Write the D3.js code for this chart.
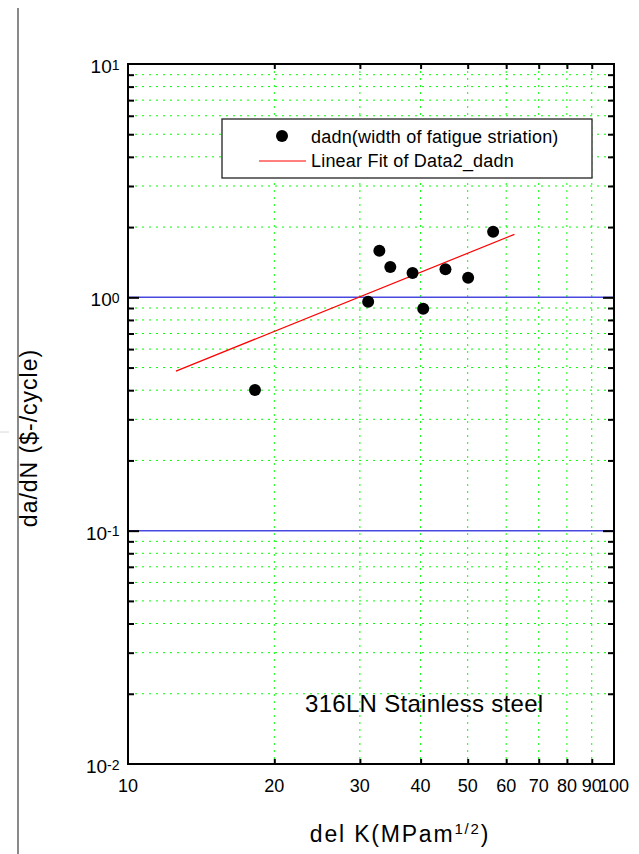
<!DOCTYPE html>
<html>
<head>
<meta charset="utf-8">
<script src="https://cdn.jsdelivr.net/npm/d3@7"></script>
<style>
  body { margin: 0; background: #fff; }
  svg { font-family: "Liberation Sans", Arial, sans-serif; }
</style>
</head>
<body>
<div id="chart"></div>
<script>
// measured points (del K, da/dN)
const deltaK = [18.25, 31.2, 32.9, 34.65, 38.5, 40.5, 45.0, 50.1, 56.4];
const dadn   = [0.401, 0.957, 1.584, 1.349, 1.271, 0.894, 1.318, 1.213, 1.91];

// linear fit end points
const fitK = [12.55, 62.4];
const fitDadn = [0.483, 1.862];

const xTicks = [10, 20, 30, 40, 50, 60, 70, 80, 90, 100];
const yDecades = [0.01, 0.1, 1, 10];
const yExp = ["-2", "-1", "0", "1"];
const blueLines = [0.1, 1];

const width = 639, height = 854;
const plotL = 128, plotR = 614, plotT = 64, plotB = 764;

const svg = d3.select("#chart").append("svg")
  .attr("width", width)
  .attr("height", height);

// window edge on the left
svg.append("line")
  .attr("x1", 18).attr("x2", 18).attr("y1", 8).attr("y2", height)
  .attr("stroke", "#8a8a8a").attr("stroke-width", 2);
svg.append("line")
  .attr("x1", 0).attr("x2", 9).attr("y1", 432).attr("y2", 432)
  .attr("stroke", "#d8d8d8").attr("stroke-width", 1);

const x = d3.scaleLog().domain([10, 100]).range([plotL, plotR]);
const y = d3.scaleLog().domain([0.01, 10]).range([plotB, plotT]);

// minor values
const xMinor = xTicks.filter(d => d != 10 && d != 100);
const yMinor = [];
[0.01, 0.1, 1].forEach(dec => {
  for (let i = 2; i <= 9; i++) yMinor.push(dec * i);
});

// green dotted grid
svg.append("g").selectAll("line")
  .data(xMinor)
  .enter().append("line")
  .attr("x1", d => x(d)).attr("x2", d => x(d))
  .attr("y1", plotT).attr("y2", plotB)
  .attr("stroke", "#00ff00").attr("stroke-width", 1)
  .attr("stroke-dasharray", "2,5");

svg.append("g").selectAll("line")
  .data(yMinor)
  .enter().append("line")
  .attr("x1", plotL).attr("x2", plotR)
  .attr("y1", d => y(d)).attr("y2", d => y(d))
  .attr("stroke", "#00ff00").attr("stroke-width", 1)
  .attr("stroke-dasharray", "2,5");

// blue lines at decades
svg.append("g").selectAll("line")
  .data(blueLines)
  .enter().append("line")
  .attr("x1", plotL).attr("x2", plotR)
  .attr("y1", d => y(d)).attr("y2", d => y(d))
  .attr("stroke", "#4848e0").attr("stroke-width", 1.5);

// tick marks (all pointing inwards)
function ticks(axis, values, size, tr) {
  svg.append("g")
    .attr("transform", tr)
    .call(axis.tickValues(values).tickSize(size).tickSizeOuter(0).tickFormat(""))
    .call(g => g.select(".domain").remove())
    .call(g => g.selectAll("line").attr("stroke", "#000").attr("stroke-width", 2));
}
ticks(d3.axisBottom(x), xMinor, -5, `translate(0,${plotB})`);
ticks(d3.axisTop(x), xMinor, -5, `translate(0,${plotT})`);
ticks(d3.axisLeft(y), yMinor, -6, `translate(${plotL},0)`);
ticks(d3.axisLeft(y), blueLines, -11, `translate(${plotL},0)`);
ticks(d3.axisRight(y), yMinor, -6, `translate(${plotR},0)`);
ticks(d3.axisRight(y), blueLines, -11, `translate(${plotR},0)`);

// frame
svg.append("rect")
  .attr("x", plotL).attr("y", plotT)
  .attr("width", plotR - plotL).attr("height", plotB - plotT)
  .attr("fill", "none").attr("stroke", "#000").attr("stroke-width", 2);

// x tick labels
svg.append("g").selectAll("text")
  .data(xTicks)
  .enter().append("text")
  .attr("x", d => x(d))
  .attr("y", 792)
  .attr("text-anchor", "middle")
  .attr("font-size", 18)
  .text(d => d);

// y tick labels with superscript
const yl = svg.append("g").selectAll("text")
  .data(yDecades)
  .enter().append("text")
  .attr("x", 119.5)
  .attr("y", d => y(d) + 9)
  .attr("text-anchor", "end")
  .attr("font-size", 19);
yl.append("tspan").text("10");
yl.append("tspan")
  .attr("font-size", 14)
  .attr("dy", -3.5)
  .text((d, i) => yExp[i]);

// fit line
svg.append("line")
  .attr("x1", x(fitK[0])).attr("y1", y(fitDadn[0]))
  .attr("x2", x(fitK[1])).attr("y2", y(fitDadn[1]))
  .attr("stroke", "#ff0000").attr("stroke-width", 1.2);

// data points
svg.append("g").selectAll("circle")
  .data(deltaK)
  .enter().append("circle")
  .attr("cx", d => x(d))
  .attr("cy", (d, i) => y(dadn[i]))
  .attr("r", 6)
  .attr("fill", "#000");

// legend
const lg = svg.append("g");
lg.append("rect")
  .attr("x", 222).attr("y", 119).attr("width", 370).attr("height", 59)
  .attr("fill", "#fff").attr("stroke", "#222").attr("stroke-width", 1.3);
lg.append("circle").attr("cx", 282).attr("cy", 136).attr("r", 6).attr("fill", "#000");
lg.append("line")
  .attr("x1", 259).attr("x2", 306).attr("y1", 161).attr("y2", 161)
  .attr("stroke", "#ff0000").attr("stroke-width", 1.2);
lg.append("text").attr("x", 311).attr("y", 143).attr("font-size", 18)
  .attr("letter-spacing", 0.2)
  .text("dadn(width of fatigue striation)");
lg.append("text").attr("x", 311).attr("y", 167).attr("font-size", 18)
  .attr("letter-spacing", 0.2)
  .text("Linear Fit of Data2_dadn");

// annotation
svg.append("text")
  .attr("x", 305).attr("y", 712)
  .attr("font-size", 24)
  .attr("letter-spacing", 0.3)
  .text("316LN Stainless steel");

// axis titles
const xt = svg.append("text")
  .attr("x", 400).attr("y", 842)
  .attr("text-anchor", "middle")
  .attr("font-size", 23)
  .attr("letter-spacing", 1.8);
xt.append("tspan").text("del K(MPam");
xt.append("tspan").attr("font-size", 15).attr("dy", -8).text("1/2");
xt.append("tspan").attr("dy", 8).text(")");

svg.append("text")
  .attr("transform", "translate(37,438) rotate(-90)")
  .attr("text-anchor", "middle")
  .attr("font-size", 23)
  .attr("letter-spacing", 1)
  .text("da/dN ($-/cycle)");
</script>
</body>
</html>
